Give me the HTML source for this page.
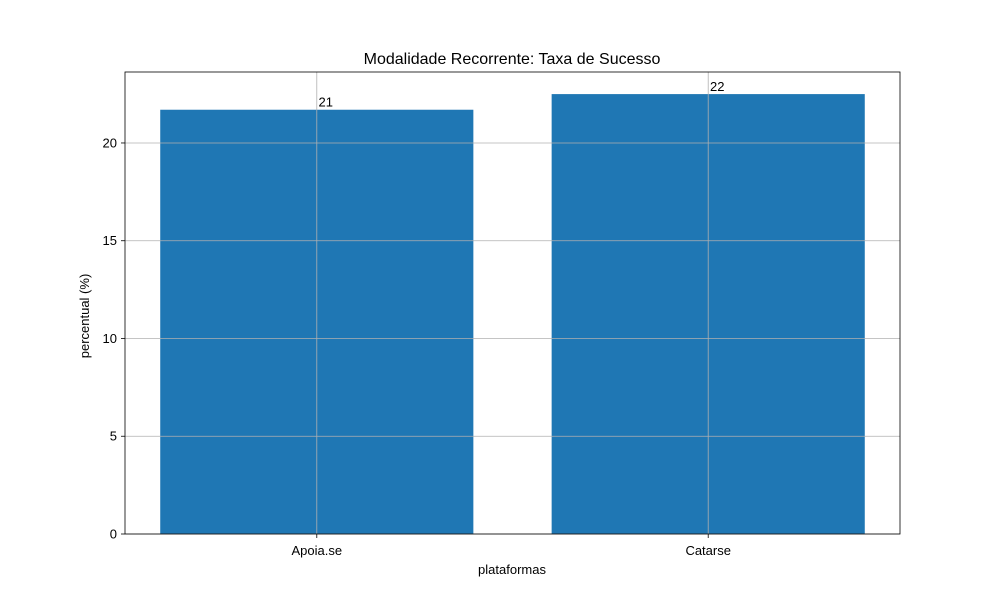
<!DOCTYPE html>
<html><head><meta charset="utf-8"><style>
body{margin:0;background:#fff;}
svg text{font-family:"Liberation Sans","DejaVu Sans",sans-serif;}
</style></head><body>
<svg id="chart" width="1000" height="600" xmlns="http://www.w3.org/2000/svg">
<rect width="1000" height="600" fill="#fff"/>
<text x="512" y="64" font-size="16" text-anchor="middle">Modalidade Recorrente: Taxa de Sucesso</text>
<g id="plot"></g>
<text x="512" y="574" font-size="13" text-anchor="middle">plataformas</text>
<text transform="translate(89,316) rotate(-90)" font-size="13" text-anchor="middle">percentual (%)</text>
</svg>
<script>
const categories = ["Apoia.se", "Catarse"];
const values = [21.7, 22.5];
const valueLabels = ["21", "22"];
const yTicks = [0, 5, 10, 15, 20];

const L=125,R=900,T=72,B=534;
const yMax=23.63, xMin=-0.49, xMax=1.49;
const y=v=>B-(v/yMax)*(B-T);
const x=i=>L+(i-xMin)/(xMax-xMin)*(R-L);
const bw=0.8*(R-L)/(xMax-xMin);
const NS="http://www.w3.org/2000/svg";
const g=document.getElementById('plot');
function mk(t,a){const e=document.createElementNS(NS,t);for(const k in a)e.setAttribute(k,a[k]);g.appendChild(e);return e;}
categories.forEach((c,i)=>{
  const b=mk('rect',{x:x(i)-bw/2,y:y(values[i]),width:bw,height:B-y(values[i]),fill:'#1f77b4'});
  
  
});
yTicks.forEach(v=>{
  const l=mk('line',{x1:L,x2:R,y1:y(v),y2:y(v),stroke:'#b0b0b0','stroke-width':0.8});
  
  
  mk('line',{x1:L-4,x2:L,y1:y(v),y2:y(v),stroke:'#000','stroke-width':0.8});
  const t=mk('text',{x:L-8,y:y(v)+4.5,'font-size':13,'text-anchor':'end'});
  t.textContent=v;
  
  
});
categories.forEach((c,i)=>{
  const l=mk('line',{x1:x(i),x2:x(i),y1:T,y2:B,stroke:'#b0b0b0','stroke-width':0.8});
  
  
  mk('line',{x1:x(i),x2:x(i),y1:B,y2:B+4,stroke:'#000','stroke-width':0.8});
  const t=mk('text',{x:x(i),y:B+21,'font-size':13,'text-anchor':'middle'});
  t.textContent=c;
  
  
  const v=mk('text',{x:x(i)+9,y:y(values[i])-3,'font-size':13,'text-anchor':'middle'});
  v.textContent=valueLabels[i];
  
  
});
const f=mk('rect',{x:L,y:T,width:R-L,height:B-T,fill:'none',stroke:'#000','stroke-width':0.8});


</script>
</body></html>
